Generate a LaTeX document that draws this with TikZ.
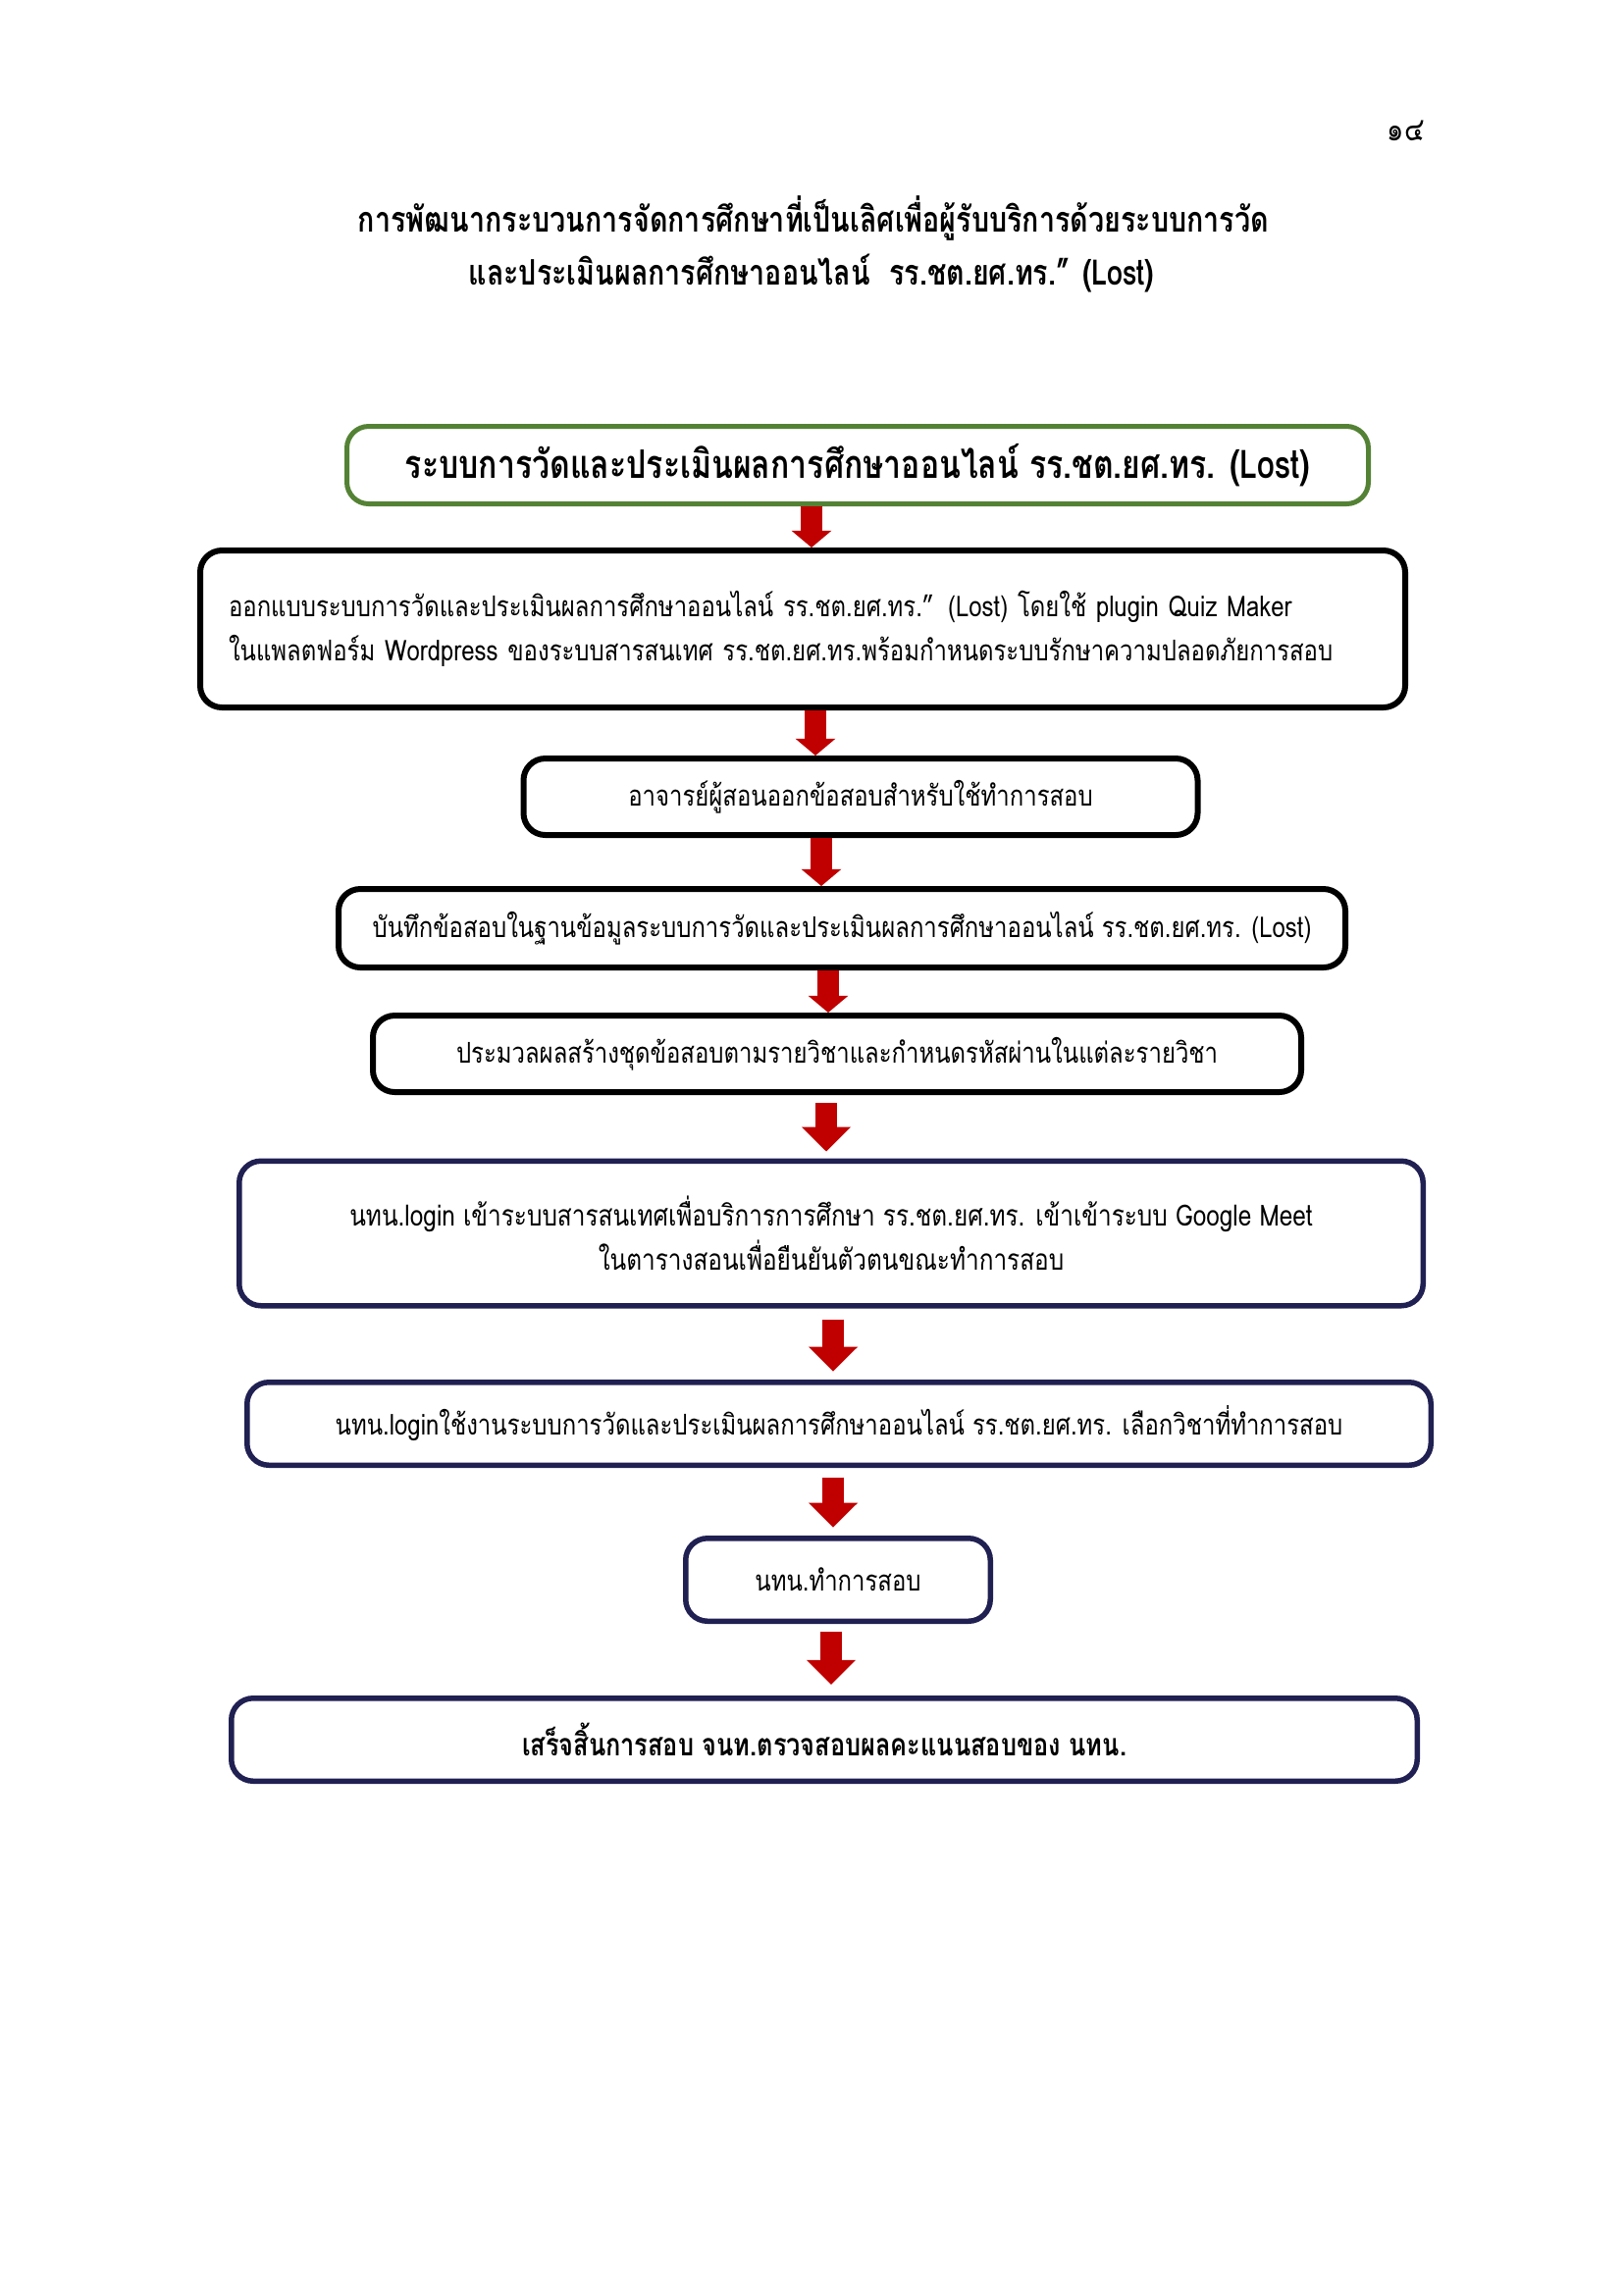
\documentclass[tikz,border=0pt]{standalone}
\usepackage{fontspec}
\setmainfont[Script=Thai]{Loma}
\newfontfamily\bodyth[Script=Thai, FakeStretch=0.82]{Loma}
\newfontfamily\boldth[Script=Thai, FakeStretch=0.8]{Loma}
\usetikzlibrary{arrows.meta}
\definecolor{boxgreen}{RGB}{84,130,53}
\definecolor{boxnavy}{RGB}{32,32,82}
\definecolor{arrred}{RGB}{192,0,0}
\tikzset{
  bx/.style n args={3}{draw, fill=white, rounded corners=8pt, inner sep=0pt, align=center,
    line width=#3*0.36pt, minimum width={(#1-#3)*0.36pt}, minimum height={(#2-#3)*0.36pt}},
  blackbox/.style={draw=black},
  greenbox/.style={draw=boxgreen},
  navybox/.style={draw=boxnavy},
  bodyfont/.style={font=\bodyth\fontsize{10.5}{16.2}\selectfont},
  boldfont/.style={font=\boldth\bfseries\fontsize{12.9}{16}\selectfont},
  smallarr/.style={draw=arrred, line width=7.6pt, -{Triangle[width=14.4pt,length=6.2pt]}},
  bigarr/.style={draw=arrred, line width=8pt, -{Triangle[width=17.5pt,length=9pt]}},
}
\begin{document}
\begin{tikzpicture}[x=0.36pt,y=-0.36pt]
\useasboundingbox (0,0) rectangle (1654,2339);
\begin{scope}[shift={(-3,-4)}]
% page number and title
\node[font=\bodyth\fontsize{12}{14}\selectfont] (pg) at (1436,137) {๑๔};
\node[boldfont] (t1) at (832,226) {การพัฒนากระบวนการจัดการศึกษาที่เป็นเลิศเพื่อผู้รับบริการด้วยระบบการวัด};
\node[boldfont] (t2) at (830,283) {และประเมินผลการศึกษาออนไลน์\ \ รร.ชต.ยศ.ทร.” (Lost)};

% boxes
\node[bx={1046}{84}{5}, greenbox, font=\boldth\bfseries\fontsize{14.4}{16}\selectfont] (b1) at (877,478)
  {ระบบการวัดและประเมินผลการศึกษาออนไลน์ รร.ชต.ยศ.ทร. (Lost)};
\node[bx={1234}{166}{6}, blackbox, bodyfont, align=left, text width={1170*0.36pt}] (b2) at (821,645)
  {\mbox{ออกแบบระบบการวัดและประเมินผลการศึกษาออนไลน์ รร.ชต.ยศ.ทร.” (Lost) โดยใช้ plugin Quiz Maker}\\
   \mbox{ในแพลตฟอร์ม Wordpress ของระบบสารสนเทศ รร.ชต.ยศ.ทร.พร้อมกำหนดระบบรักษาความปลอดภัยการสอบ}};
\node[bx={693}{84}{6}, blackbox, bodyfont] (b3) at (880,816)
  {อาจารย์ผู้สอนออกข้อสอบสำหรับใช้ทำการสอบ};
\node[bx={1032}{86}{6}, blackbox, bodyfont] (b4) at (861,950)
  {บันทึกข้อสอบในฐานข้อมูลระบบการวัดและประเมินผลการศึกษาออนไลน์ รร.ชต.ยศ.ทร. (Lost)};
\node[bx={952}{84}{6}, blackbox, bodyfont] (b5) at (856,1078)
  {ประมวลผลสร้างชุดข้อสอบตามรายวิชาและกำหนดรหัสผ่านในแต่ละรายวิชา};
\node[bx={1212}{153}{5.5}, navybox, font=\bodyth\fontsize{10.7}{16.2}\selectfont] (b6) at (850,1261)
  {นทน.login เข้าระบบสารสนเทศเพื่อบริการการศึกษา รร.ชต.ยศ.ทร. เข้าเข้าระบบ Google Meet\\
   ในตารางสอนเพื่อยืนยันตัวตนขณะทำการสอบ};
\node[bx={1212}{90}{5.5}, navybox, bodyfont] (b7) at (858,1455)
  {นทน.loginใช้งานระบบการวัดและประเมินผลการศึกษาออนไลน์ รร.ชต.ยศ.ทร. เลือกวิชาที่ทำการสอบ};
\node[bx={316}{90}{5.5}, navybox, bodyfont] (b8) at (857,1614)
  {นทน.ทำการสอบ};
\node[bx={1214}{90}{5.5}, navybox, font=\boldth\bfseries\fontsize{11.4}{16}\selectfont] (b9) at (843,1777)
  {เสร็จสิ้นการสอบ จนท.ตรวจสอบผลคะแนนสอบของ นทน.};

% arrow x positions
\coordinate (x1) at (830,0);
\coordinate (x2) at (834,0);
\coordinate (x3) at (840,0);
\coordinate (x4) at (847,0);
\coordinate (x5) at (845,0);
\coordinate (x6) at (852,0);
\coordinate (x7) at (852,0);
\coordinate (x8) at (850,0);

\draw[smallarr] (b1.south -| x1) -- (b2.north -| x1);
\draw[smallarr] (b2.south -| x2) -- (b3.north -| x2);
\draw[smallarr] (b3.south -| x3) -- (b4.north -| x3);
\draw[smallarr] (b4.south -| x4) -- (b5.north -| x4);
\draw[bigarr, shorten <=3pt, shorten >=2.5pt] (b5.south -| x5) -- (b6.north -| x5);
\draw[bigarr, shorten <=4pt, shorten >=3pt] (b6.south -| x6) -- (b7.north -| x6);
\draw[bigarr, shorten <=3.5pt, shorten >=3pt] (b7.south -| x7) -- (b8.north -| x7);
\draw[bigarr, shorten <=3pt, shorten >=4pt] (b8.south -| x8) -- (b9.north -| x8);
\end{scope}
\end{tikzpicture}
\end{document}
